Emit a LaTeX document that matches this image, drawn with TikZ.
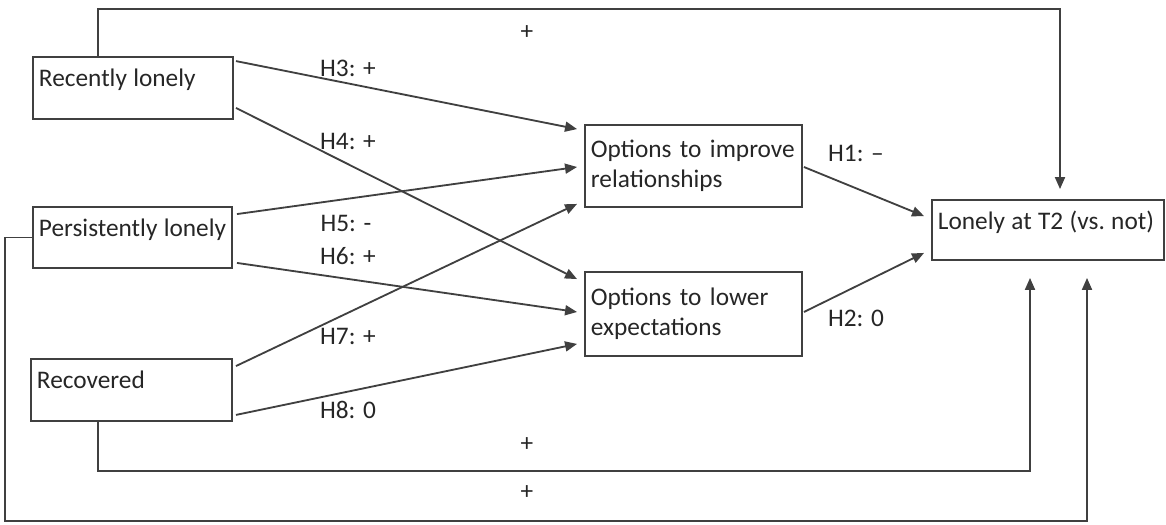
\documentclass[tikz,border=0pt]{standalone}
\usepackage{fontspec}
\setmainfont{Carlito}
\usetikzlibrary{arrows.meta}

\tikzset{
  box/.style={draw=black!75, line width=1.3pt, align=left, text=black!85,
    inner xsep=0.15cm, text width=#1, minimum width=#1+0.3cm},
  oneline/.style={text depth=14pt,
    execute at begin node={\frenchspacing\xspaceskip=0pt\spaceskip=0.25em\relax\hbox\bgroup},
    execute at end node=\egroup},
  lbl/.style={inner sep=0pt, text=black!85},
  arr/.style={draw=black!75, line width=1.3pt, -{Triangle[length=0.3cm,width=0.25cm]}}
}

\begin{document}
\begin{tikzpicture}[x=0.025cm, y=-0.025cm, font=\fontsize{18}{21}\selectfont]
  \useasboundingbox (0,0) rectangle (1166,525);

  % groups at T1
  \node[box=4.7cm, oneline, minimum height=1.55cm] (recent) at (133,88) {Recently lonely};
  \node[box=4.675cm, oneline, minimum height=1.525cm] (persist) at (132.5,237.5) {Persistently lonely};
  \node[box=4.725cm, oneline, minimum height=1.55cm] (recov) at (131.5,390) {Recovered};

  % mediators
  \node[box=5.125cm, minimum height=2.05cm] (improve) at (693.5,166) {Options to improve\\relationships};
  \node[box=5.125cm, minimum height=2.1cm] (lower) at (693.5,314) {Options to lower\\expectations};

  % outcome
  \node[box=5.5cm, oneline, minimum height=1.5cm] (lonely) at (1048,230) {Lonely at T2 (vs. not)};

  % hypotheses
  \draw[arr] ([shift={(2,5)}]recent.north east) -- ([shift={(-7,5)}]improve.north west);
  \draw[arr] ([shift={(2,-12)}]recent.south east) -- ([shift={(-7,8)}]lower.north west);
  \draw[arr] ([shift={(4,8)}]persist.north east) -- ([shift={(-7,1)}]improve.west);
  \draw[arr] ([shift={(4,-6)}]persist.south east) -- ([shift={(-7,-2)}]lower.west);
  \draw[arr] ([shift={(3,8)}]recov.north east) -- ([shift={(-7,-4)}]improve.south west);
  \draw[arr] ([shift={(3,-7)}]recov.south east) -- ([shift={(-7,-13)}]lower.south west);
  \draw[arr] ([shift={(1,1)}]improve.east) -- ([shift={(-7,17)}]lonely.north west);
  \draw[arr] ([shift={(1,-2)}]lower.east) -- ([shift={(-7,-8)}]lonely.south west);

  % direct paths
  \draw[arr] ([shift={(-35,0)}]recent.north) -- ++(0,-47) -| ([shift={(12,-10)}]lonely.north);
  \draw[arr] ([shift={(-33.5,0)}]recov.south) -- ++(0,49) -| ([shift={(-18,17)}]lonely.south);
  \draw[arr] (persist.west) -| ++(-27,283.5) -| ([shift={(39,17)}]lonely.south);

  \node[lbl] (h3) at (348,68) {H3: +};
  \node[lbl] (h4) at (348,141) {H4: +};
  \node[lbl] (h5) at (346,223) {H5: -};
  \node[lbl] (h6) at (348,256) {H6: +};
  \node[lbl] (h7) at (348,336) {H7: +};
  \node[lbl] (h8) at (348,410) {H8: 0};
  \node[lbl] (h1) at (856,153) {H1: –};
  \node[lbl] (h2) at (856,318) {H2: 0};
  \node[lbl] (ptop) at (527,33) {+};
  \node[lbl] (pmid) at (527,445) {+};
  \node[lbl] (pbot) at (527,493) {+};
\end{tikzpicture}
\end{document}
